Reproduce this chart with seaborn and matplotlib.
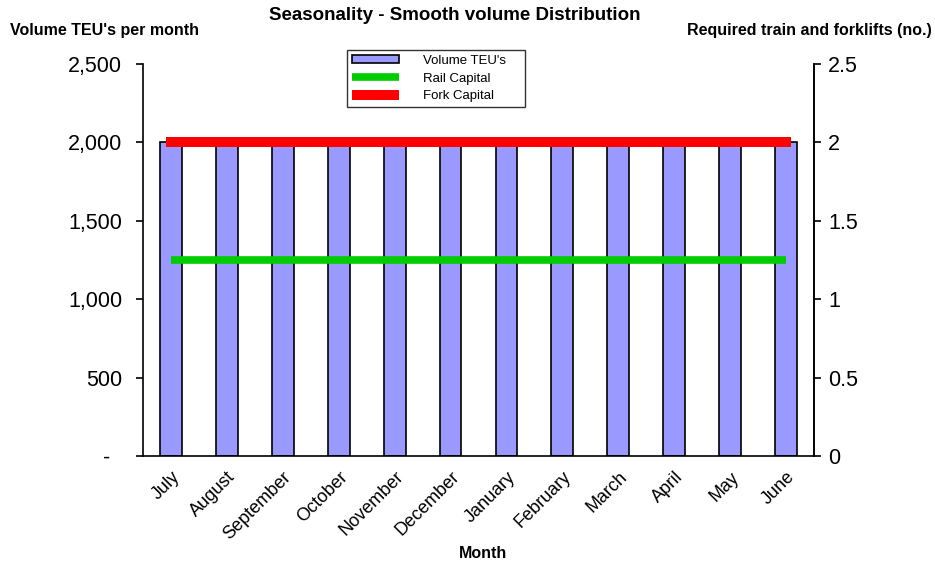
import matplotlib.pyplot as plt
import matplotlib.ticker as mticker
from matplotlib.patches import Patch
from matplotlib.lines import Line2D
import pandas as pd
import seaborn as sb
import numpy as np

months = ["July", "August", "September", "October", "November", "December",
          "January", "February", "March", "April", "May", "June"]
volume_teu = [2000] * 12
rail_capital = [1.25] * 12
fork_capital = [2] * 12

barcolor = "#9999FF"
railcolor = "#00CC00"
forkcolor = "#FF0000"

sb.set_style("white")
plt.rcParams['font.family'] = ['Liberation Sans', 'DejaVu Sans']
plt.rcParams['text.color'] = "black"
plt.rcParams['xtick.color'] = "black"
plt.rcParams['ytick.color'] = "black"
plt.rcParams['axes.labelcolor'] = "black"

df = pd.DataFrame({"Month": months, "Volume": volume_teu})

fig = plt.figure(figsize=(9.35, 5.65), dpi=100)
ax = fig.add_axes([143/935, 1-456/565, (814-143)/935, (456-64)/565])

sb.barplot(data=df, x="Month", y="Volume", color=barcolor, width=0.39,
           edgecolor="black", linewidth=1.2, saturation=1, ax=ax)
ax.set_xlim(-0.5, 11.5)
ax.set_ylim(0, 2500)
ax.set_yticks([0, 500, 1000, 1500, 2000, 2500])
ax.yaxis.set_major_formatter(mticker.FuncFormatter(
    lambda v, p: "-  " if v == 0 else "{:,.0f}".format(v)))
ax.set_xlabel("")
ax.set_ylabel("")

# ticks between categories, labels at centers
ax.set_xticks(np.arange(12))
ax.set_xticklabels(months, rotation=45, ha="right", rotation_mode="anchor",
                   fontsize=13)
ax.set_xticks(np.arange(-0.5, 12, 1), minor=True)
ax.tick_params(axis="x", which="major", length=0, pad=9)
ax.tick_params(axis="x", which="minor", length=5, width=1.2, direction="out",
               color="black")
ax.tick_params(axis="y", length=5, width=1.2, direction="out", color="black",
               labelsize=15.5, pad=10)

for s in ["left", "bottom", "right"]:
    ax.spines[s].set_color("black")
    ax.spines[s].set_linewidth(1.2)
ax.spines["top"].set_visible(False)

ax2 = ax.twinx()
x = np.arange(12)
ax2.plot(x, rail_capital, color=railcolor, lw=5.5, solid_capstyle="butt")
ax2.plot(x, fork_capital, color=forkcolor, lw=7.2, solid_capstyle="projecting")
ax2.set_ylim(0, 2.5)
ax2.set_yticks([0, 0.5, 1, 1.5, 2, 2.5])
ax2.yaxis.set_major_formatter(mticker.FuncFormatter(lambda v, p: "{:g}".format(v)))
ax2.tick_params(axis="y", length=5, width=1.2, direction="out", color="black",
                labelsize=15.5, pad=5)
ax2.spines["top"].set_visible(False)
ax2.spines["right"].set_color("black")
ax2.spines["right"].set_linewidth(1.2)
ax2.spines["left"].set_visible(False)
ax2.spines["bottom"].set_visible(False)

fig.text(455/935, 1-15/565, "Seasonality - Smooth volume Distribution",
         ha="center", va="center", fontsize=13.5, fontweight="bold")
fig.text(10/935, 1-30/565, "Volume TEU's per month", ha="left", va="center",
         fontsize=11.5, fontweight="bold")
fig.text(932/935, 1-30/565, "Required train and forklifts (no.)", ha="right",
         va="center", fontsize=11.5, fontweight="bold")
fig.text(483/935, 1-553/565, "Month", ha="center", va="center",
         fontsize=11.5, fontweight="bold")

handles = [Patch(facecolor=barcolor, edgecolor="black", linewidth=1.2),
           Line2D([0], [0], color=railcolor, lw=5.5, solid_capstyle="butt"),
           Line2D([0], [0], color=forkcolor, lw=7.2, solid_capstyle="butt")]
labels = ["Volume TEU's    ", "Rail Capital", "Fork Capital"]
leg = fig.legend(handles, labels, loc="upper left",
                 bbox_to_anchor=(347/935, 1-50/565), fontsize=9.5,
                 frameon=True, fancybox=False, edgecolor="black",
                 handlelength=3.6, handleheight=0.55, labelspacing=0.45,
                 borderpad=0.35, handletextpad=1.8, borderaxespad=0)
leg.get_frame().set_linewidth(1.0)

plt.savefig("out.png", dpi=100)
